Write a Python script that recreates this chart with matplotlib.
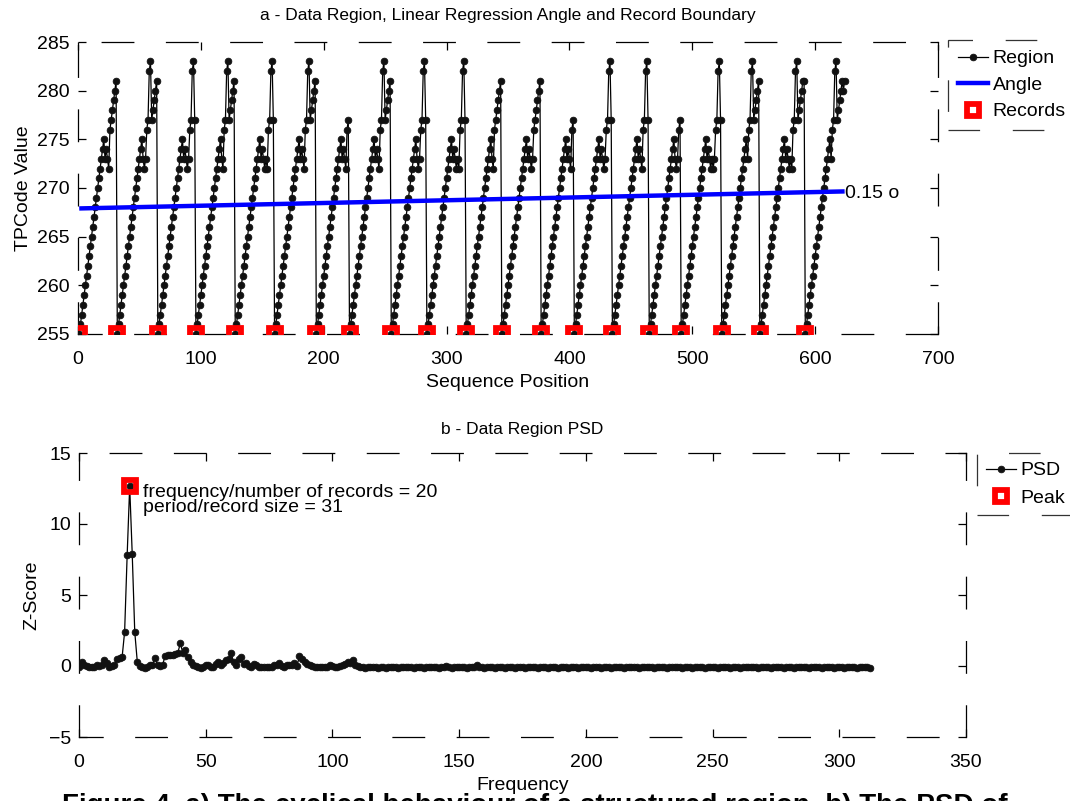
import numpy as np
import matplotlib
matplotlib.use('Agg')
import matplotlib.pyplot as plt
from matplotlib.lines import Line2D

plt.rcParams['font.family'] = ['Liberation Sans', 'DejaVu Sans']
plt.rcParams['lines.scale_dashes'] = False

# ---------------- data ----------------
# TPCode values of the data region, one record per line
region_values = [
    255,256,257,258,259,260,261,262,263,264,265,266,267,268,269,270,271,272,273,274,275, 273,274,273,272, 276,277,278,279,280,281,
    255,256,257,258,259,260,261,262,263,264,265,266,267,268,269,270,271,272,273,274,275, 273,272,273, 276,277,282,283,277,278,279,280,281,
    255,256,257,258,259,260,261,262,263,264,265,266,267,268,269,270,271,272,273,274,275, 273,274,273,272,273, 276,277,282,283,277,
    255,256,257,258,259,260,261,262,263,264,265,266,267,268,269,270,271,272,273,274,275, 273,272, 276,277,282,283,277,278,279,280,281,
    255,256,257,258,259,260,261,262,263,264,265,266,267,268,269,270,271,272,273,274,275, 273,274,273,272,273,272, 276,277,282,283,277,
    255,256,257,258,259,260,261,262,263,264,265,266,267,268,269,270,271,272,273,274,275, 273,274,273,272, 276,277,282,283,277,278,279,280,281,
    255,256,257,258,259,260,261,262,263,264,265,266,267,268,269,270,271,272,273,274,275, 273,274,273,272, 276,277,
    255,256,257,258,259,260,261,262,263,264,265,266,267,268,269,270,271,272,273,274,275, 273,274,273,272, 276,277,282,283,277,278,279,280,281,
    255,256,257,258,259,260,261,262,263,264,265,266,267,268,269,270,271,272,273,274,275, 273,272,273, 276,277,282,283,277,
    255,256,257,258,259,260,261,262,263,264,265,266,267,268,269,270,271,272,273,274,275, 273,274,273,272,273,272, 276,277,282,283,277,
    255,256,257,258,259,260,261,262,263,264,265,266,267,268,269,270,271,272,273,274,275, 273,272, 276,277,278,279,280,281,
    255,256,257,258,259,260,261,262,263,264,265,266,267,268,269,270,271,272,273,274,275, 273,274,273,272,273, 276,277,278,279,280,281,
    255,256,257,258,259,260,261,262,263,264,265,266,267,268,269,270,271,272,273,274,275, 273,274,273,272, 276,277,
    255,256,257,258,259,260,261,262,263,264,265,266,267,268,269,270,271,272,273,274,275, 273,274,273,272,273, 276,277,282,283,277,
    255,256,257,258,259,260,261,262,263,264,265,266,267,268,269,270,271,272,273,274,275, 273,274,273,272, 276,277,282,283,277,
    255,256,257,258,259,260,261,262,263,264,265,266,267,268,269,270,271,272,273,274,275, 273,272,273, 276,277,
    255,256,257,258,259,260,261,262,263,264,265,266,267,268,269,270,271,272,273,274,275, 273,274,273,272,273,272,273, 276,277,282,283,277,
    255,256,257,258,259,260,261,262,263,264,265,266,267,268,269,270,271,272,273,274,275, 273, 276,277,282,283,277,278,279,280,281,
    255,256,257,258,259,260,261,262,263,264,265,266,267,268,269,270,271,272,273,274,275, 273,274,273,272,273,272, 276,277,282,283,277,278,279,280,281,281,
    255,256,257,258,259,260,261,262,263,264,265,266,267,268,269,270,271,272,273,274,275, 273, 276,277,282,283,277,278,279,280,281,280,281,
]
record_starts = [1, 32, 65, 96, 128, 160, 194, 221, 255, 284, 316, 345, 377, 404, 435, 465, 491, 524, 555, 592]
angle_x = [1, 624]
angle_values = [267.9, 269.65]
angle_label = '0.15 o'

# Z-score of the power spectral density, frequencies 0..312
psd_values = [
    -0.05, 0.25, 0.1, 0.0, -0.05, -0.08, -0.05, 0.05, 0.0, 0.1,
    0.4, 0.2, -0.05, 0.0, 0.05, 0.5, 0.55, 0.6, 2.4, 7.8,
    12.65, 7.9, 2.4, 0.3, 0.0, -0.1, -0.15, -0.05, 0.05, 0.1,
    0.55, 0.05, 0.0, 0.1, 0.7, 0.75, 0.8, 0.8, 0.85, 0.95,
    1.6, 0.9, 1.1, 0.6, 0.3, 0.1, 0.0, -0.1, -0.15, -0.05,
    0.1, 0.05, -0.1, -0.05, 0.15, 0.25, 0.1, 0.2, 0.4, 0.5,
    0.9, 0.3, 0.05, 0.5, 0.6, 0.15, 0.2, 0.0, -0.05, 0.15,
    0.05, -0.1, -0.1, -0.05, -0.1, -0.1, -0.05, 0.05, 0.1, 0.2,
    0.0, -0.1, 0.05, 0.1, 0.05, 0.2, 0.0, 0.7, 0.5, 0.3,
    0.15, 0.1, 0.0, -0.05, -0.1, -0.1, -0.1, -0.05, -0.1, 0.05,
    0.0, -0.1, -0.05, 0.0, 0.05, 0.15, 0.3, 0.2, 0.45, 0.1,
    0.0, -0.1, -0.1, -0.15, -0.1, -0.05, -0.1, -0.1, -0.15, -0.1,
    -0.1, -0.12, -0.08, -0.1, -0.05, -0.1, -0.12, -0.1, -0.08, -0.1,
    -0.05, -0.1, -0.12, -0.1, -0.08, -0.1, -0.12, -0.1, -0.05, -0.1,
    -0.1, -0.08, -0.12, -0.1, -0.05, 0.0, -0.1, -0.12, -0.08, -0.1,
    -0.1, -0.05, -0.1, -0.12, -0.1, -0.08, -0.1, 0.05, -0.05, -0.1,
    -0.12, -0.1, -0.08, -0.1, -0.12, -0.1, -0.05, -0.1, -0.12, -0.1,
    -0.1, -0.08, -0.12, -0.1, -0.05, -0.1, -0.12, -0.1, -0.08, -0.1,
    -0.1, -0.12, -0.1, -0.08, -0.1, -0.12, -0.1, -0.05, -0.1, -0.12,
    -0.1, -0.08, -0.1, -0.12, -0.1, -0.1, -0.08, -0.12, -0.1, -0.1,
    -0.08, -0.1, -0.12, -0.1, -0.05, -0.1, -0.12, -0.1, -0.1, -0.08,
    -0.12, -0.1, -0.1, -0.05, -0.1, -0.12, -0.1, -0.08, -0.1, -0.1,
    -0.1, -0.12, -0.08, -0.1, -0.1, -0.05, -0.1, -0.12, -0.1, -0.08,
    -0.1, -0.1, -0.12, -0.1, -0.08, -0.1, -0.05, -0.1, -0.12, -0.1,
    -0.08, -0.1, -0.12, -0.1, -0.1, -0.05, -0.1, -0.12, -0.1, -0.1,
    -0.1, -0.08, -0.12, -0.1, -0.1, -0.05, -0.1, -0.12, -0.08, -0.1,
    -0.1, -0.12, -0.1, -0.08, -0.1, -0.1, -0.05, -0.1, -0.12, -0.1,
    -0.08, -0.1, -0.1, -0.12, -0.1, -0.05, -0.1, -0.1, -0.12, -0.08,
    -0.1, -0.1, -0.12, -0.1, -0.05, -0.1, -0.1, -0.08, -0.12, -0.1,
    -0.1, -0.05, -0.1, -0.12, -0.1, -0.08, -0.1, -0.1, -0.12, -0.1,
    -0.05, -0.1, -0.12, -0.1, -0.08, -0.1, -0.1, -0.12, -0.1, -0.1,
    -0.08, -0.1, -0.12,
]
peak_freq = [20]
peak_value = [12.65]
peak_text = ['frequency/number of records = 20', 'period/record size = 31']
caption = 'Figure 4  a) The cyclical behaviour of a structured region  b) The PSD of'

top_xticks = [0, 100, 200, 300, 400, 500, 600, 700]
top_yticks = [255, 260, 265, 270, 275, 280, 285]
bot_xticks = [0, 50, 100, 150, 200, 250, 300, 350]
bot_yticks = [-5, 0, 5, 10, 15]

# ---------------- figure ----------------
W, H = 1070, 801
PX = 72.0 / 100.0  # points per pixel
FS = 14
fig = plt.figure(figsize=(W / 100, H / 100), dpi=100)

def px_axes(l, t, r, b):
    return fig.add_axes([l / W, 1 - b / H, (r - l) / W, (b - t) / H])

ax1 = px_axes(78, 42, 938, 334)
ax2 = px_axes(79, 453, 966, 737)

DASH_ON, DASH_OFF = 31.6 * PX, 32.7 * PX

def style_axes(ax, offsets):
    for side, off in offsets.items():
        sp = ax.spines[side]
        sp.set_linewidth(0.9)
        sp.set_linestyle((off * PX, (DASH_ON, DASH_OFF)))
    ax.tick_params(direction='in', length=8 * PX, width=0.9, top=True, right=True,
                   labelsize=FS, colors='black')
    ax.tick_params(axis='y', pad=8 * PX)
    ax.tick_params(axis='x', pad=17 * PX)

mk = dict(marker='o', markersize=4.8, markerfacecolor='#111111', markeredgecolor='#111111',
          markeredgewidth=0.6)
sq = dict(marker='s', markersize=12.2 * PX, markerfacecolor='none', markeredgecolor='#ff0000',
          markeredgewidth=5.8 * PX, linestyle='none')

# ---- panel a ----
xs = np.arange(1, len(region_values) + 1)
reg = np.array(region_values)
ax1.plot(xs, reg, color='black', lw=0.9, zorder=3, **mk)
ax1.plot(angle_x, angle_values, color='#0000ff', lw=3.2, zorder=4, solid_capstyle='butt')
rec_idx = np.array(record_starts) - 1
ax1.plot(xs[rec_idx], reg[rec_idx], zorder=5, **sq)
ax1.text(angle_x[-1] + 0.5, 269.4, angle_label, fontsize=FS, va='center', ha='left')
ax1.set_xlim(0, 700)
ax1.set_ylim(255, 285)
ax1.set_xticks(top_xticks)
ax1.set_yticks(top_yticks)
ax1.set_xlabel('Sequence Position', fontsize=FS, labelpad=4)
ax1.set_ylabel('TPCode Value', fontsize=FS, labelpad=4)
ax1.set_title('a - Data Region, Linear Regression Angle and Record Boundary', fontsize=12.5, pad=16)
style_axes(ax1, {'top': 40.6, 'bottom': 8, 'left': 0, 'right': 0})

h_region = Line2D([], [], color='black', lw=0.9, **mk)
h_angle = Line2D([], [], color='#0000ff', lw=3.2)
h_rec = Line2D([], [], **sq)
leg1 = fig.legend([h_region, h_angle, h_rec], ['Region', 'Angle', 'Records'],
                  loc='upper left', bbox_to_anchor=(948 / W, 1 - 40 / H), fontsize=FS,
                  numpoints=1, handlelength=1.55, handletextpad=0.25, labelspacing=0.46,
                  borderpad=0.5, borderaxespad=0, fancybox=False, frameon=True)
fr = leg1.get_frame()
fr.set_edgecolor('black'); fr.set_linewidth(0.9)
fr.set_linestyle((0, (DASH_ON, DASH_OFF)))

# ---- panel b ----
fx = np.arange(len(psd_values))
ax2.plot(fx, psd_values, color='black', lw=0.9, zorder=3, **mk)
ax2.plot(peak_freq, peak_value, zorder=5, **sq)
ax2.text(peak_freq[0] + 5.3, 12.2, peak_text[0], fontsize=FS, va='center', ha='left')
ax2.text(peak_freq[0] + 5.3, 11.15, peak_text[1], fontsize=FS, va='center', ha='left')
ax2.set_xlim(0, 350)
ax2.set_ylim(-5, 15)
ax2.set_xticks(bot_xticks)
ax2.set_yticks(bot_yticks)
ax2.set_xlabel('Frequency', fontsize=FS, labelpad=4)
ax2.set_ylabel('Z-Score', fontsize=FS, labelpad=6)
ax2.set_title('b - Data Region PSD', fontsize=12.5, pad=14)
style_axes(ax2, {'top': 33.6, 'bottom': 8, 'left': 0, 'right': 0})

h_psd = Line2D([], [], color='black', lw=0.9, **mk)
h_peak = Line2D([], [], **sq)
leg2 = fig.legend([h_psd, h_peak], ['PSD', 'Peak'],
                  loc='upper left', bbox_to_anchor=(977 / W, 1 - 453 / H), fontsize=FS,
                  numpoints=1, handlelength=1.55, handletextpad=0.25, labelspacing=0.5,
                  borderpad=0.45, borderaxespad=0, fancybox=False, frameon=True)
fr = leg2.get_frame()
fr.set_edgecolor('black'); fr.set_linewidth(0.9)
fr.set_linestyle((0, (DASH_ON, DASH_OFF)))

# caption (cut by the figure edge, as in the source)
fig.text(62 / W, 1 - 813 / H, caption,
         fontsize=20, fontweight='bold', va='baseline', ha='left')

fig.savefig('out.png', dpi=100)
